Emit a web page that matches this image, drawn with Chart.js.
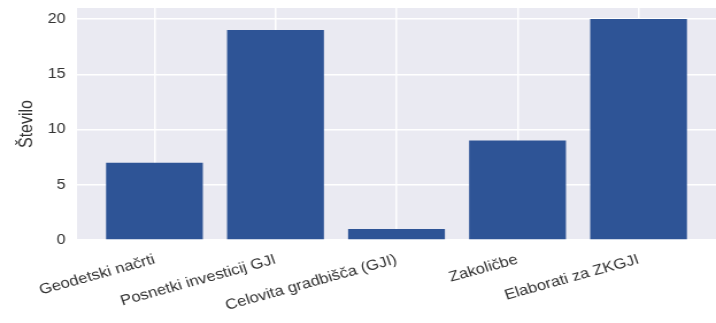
<!DOCTYPE html>
<html><head><meta charset="utf-8">
<script src="https://cdn.jsdelivr.net/npm/chart.js@4"></script>
<style>
html,body{margin:0;padding:0;background:#fff;overflow:hidden;width:716px;height:323px}
#wrap{position:absolute;left:0;top:0;width:623px;height:323px;transform:scaleX(1.1493);transform-origin:0 0}
</style></head>
<body><div id="wrap"><canvas id="c"></canvas></div>
<script>
const categories = ["Geodetski načrti", "Posnetki investicij GJI", "Celovita gradbišča (GJI)", "Zakoličbe", "Elaborati za ZKGJI"];
const counts = [7, 19, 1, 9, 20];
const yTicks = [0, 5, 10, 15, 20];

const plotBg = {
  id: 'plotBg',
  beforeDraw(chart) {
    const {ctx, chartArea: a} = chart;
    ctx.save();
    ctx.fillStyle = '#EAEAF2';
    ctx.fillRect(a.left, a.top, a.right - a.left, a.bottom - a.top);
    ctx.restore();
  }
};

const FONT = "'Liberation Sans', Arial, sans-serif";

new Chart(document.getElementById('c'), {
  type: 'bar',
  data: {
    datasets: [{
      label: 'Število',
      data: categories.map((c, i) => ({x: i, y: counts[i]})),
      backgroundColor: 'rgb(46,84,150)',
      borderWidth: 0,
      barPercentage: 0.8,
      categoryPercentage: 1
    }]
  },
  options: {
    responsive: true,
    maintainAspectRatio: false,
    animation: false,
    layout: {padding: {top: 8, right: 0, left: 0, bottom: 0}},
    plugins: {legend: {display: false}, tooltip: {enabled: false}},
    scales: {
      x: {
        type: 'linear',
        offset: false,
        min: -0.64,
        max: 4.64,
        afterBuildTicks(s) { s.ticks = categories.map((c, i) => ({value: i})); },
        afterFit(s) { s.height = 83; s.paddingLeft = 0; s.paddingRight = 0; },
        ticks: {
          callback: (v) => categories[v],
          autoSkip: false,
          maxRotation: 17.5,
          minRotation: 17.5,
          padding: 11,
          color: '#333',
          font: {family: FONT, size: 14.5}
        },
        grid: {color: '#ffffff', lineWidth: 1.5, drawTicks: false, offset: false},
        border: {display: false}
      },
      y: {
        min: 0,
        max: 21,
        afterBuildTicks(s) { s.ticks = yTicks.map(v => ({value: v})); },
        afterFit(s) { s.width = 67; s.paddingTop = 0; s.paddingBottom = 0; },
        ticks: {
          padding: 10,
          color: '#333',
          font: {family: FONT, size: 14}
        },
        title: {
          display: true,
          text: 'Število',
          color: '#333',
          padding: {top: 14, bottom: 0},
          font: {family: FONT, size: 16}
        },
        grid: {color: '#ffffff', lineWidth: 1.5, drawTicks: false},
        border: {display: false}
      }
    }
  },
  plugins: [plotBg]
});
</script>
</body></html>
